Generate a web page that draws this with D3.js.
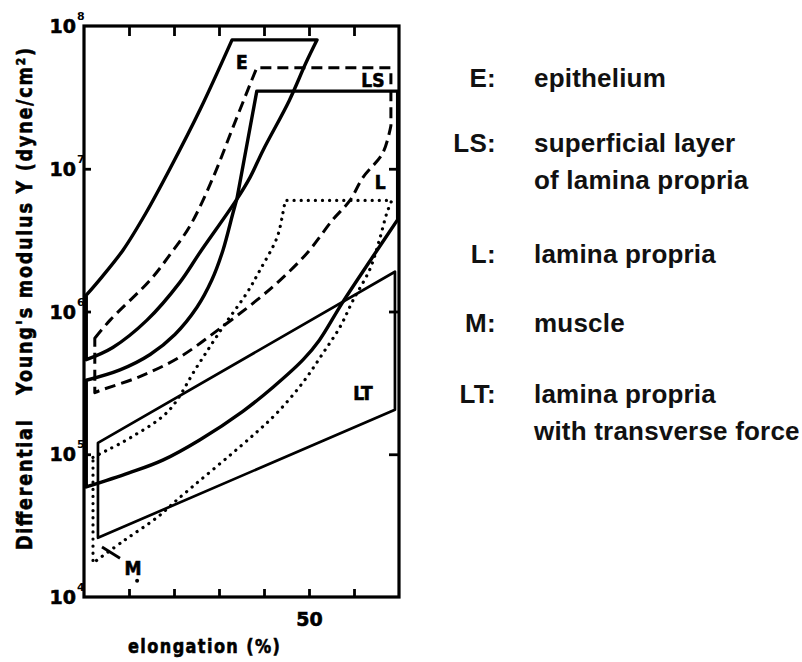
<!DOCTYPE html>
<html>
<head>
<meta charset="utf-8">
<script src="https://cdn.jsdelivr.net/npm/d3@7"></script>
<style>
  body { margin: 0; background: #fff; }
  svg { display: block; }
  .heavy { stroke: #000; stroke-width: 0.6px; paint-order: stroke; }
</style>
</head>
<body>
<div class="chart"></div>
<script>
// elongation (%) -> differential Young's modulus (dyne/cm2)
const eUpper = [[0.5, 1.3e6], [4, 1.75e6], [8.7, 2.7e6], [13.6, 4.8e6], [19.1, 1e7], [25.8, 2.6e7], [32.9, 8e7]];
const eLower = [[0.5, 4.6e5], [6.4, 5.6e5], [14, 8.7e5], [21.3, 1.6e6], [25.8, 2.6e6], [33.8, 6e6], [36.9, 8.7e6], [39.8, 1.35e7], [45.6, 3e7], [49.3, 5.5e7], [51.8, 8e7]];

const lsUpper = [[2.4, 6.5e5], [5.8, 8.7e5], [14.7, 1.66e6], [19.1, 2.5e6], [23.6, 4e6], [28.7, 8.7e6], [33.1, 1.95e7], [36.9, 3.9e7], [38.4, 5.1e7]];
const lsLower = [[2.4, 2.7e5], [3.6, 2.8e5], [12.4, 3.5e5], [21.3, 4.8e5], [30.2, 7.6e5], [38.4, 1.2e6], [43.6, 1.66e6], [49.6, 2.57e6], [55.3, 4.4e6], [59.1, 6e6], [62, 8.7e6], [66.4, 1.29e7], [68.2, 2e7]];
const lsTop = 5.1e7, lsRight = 68.2;

const lUpper = [[0.5, 3.3e5], [8, 3.9e5], [14.7, 5e5], [20.2, 6.9e5], [25.1, 1.07e6], [28.4, 1.66e6], [30.9, 2.7e6], [33.1, 4.9e6], [34, 6.2e6]];
const lLower = [[0.5, 5.9e4], [10, 7.4e4], [17.5, 9.1e4], [25.7, 1.26e5], [35.3, 2e5], [42, 2.95e5], [48.7, 4.6e5], [52.3, 6.3e5], [57.4, 1.15e6], [64.1, 2.4e6], [69.7, 4.4e6]];
const lTop = 3.5e7, lCornerX = 38.4, lRight = 69.7;

const mUpper = [[2, 9.5e4], [4.7, 1.05e5], [10.2, 1.3e5], [18.7, 2e5], [25.1, 4.1e5], [30.9, 7.8e5], [36.2, 1.35e6], [39.1, 1.95e6], [42.9, 3.3e6], [44.2, 4.9e6], [44.7, 6e6]];
const mLower = [[2, 1.73e4], [9, 2.5e4], [16.2, 3.6e4], [20.7, 4.8e4], [36.9, 1.3e5], [42.9, 1.95e5], [48.7, 3.2e5], [53.1, 5.1e5], [56.9, 7.8e5], [59.8, 1.2e6], [63.6, 2e6], [65.8, 3.3e6], [67.3, 4.9e6], [68.4, 6e6]];
const mPointer = [[4, 2.24e4], [8, 1.87e4]];

const ltUpper = [[3.1, 1.2e5], [69.1, 1.9e6]];
const ltLower = [[3.1, 2.6e4], [69.1, 2.05e5]];

const regionNames = ["E", "LS", "L", "LT", "M"];
const regionLabelX = [35.1, 64.2, 65.8, 62, 10.9];
const regionLabelY = [5.6e7, 4.2e7, 8.1e6, 2.7e5, 1.6e4];

const xTicks = [10, 20, 30, 40, 50, 60];
const xLabelled = [50];
const yTicks = [1e5, 1e6, 1e7];
const yExponents = [4, 5, 6, 7, 8];

const legendKeys = ["E:", "LS:", "L:", "M:", "LT:"];
const legendText = [["epithelium"], ["superficial layer", "of lamina propria"], ["lamina propria"], ["muscle"], ["lamina propria", "with transverse force"]];

const width = 802, height = 662;
const svg = d3.select(".chart").append("svg")
    .attr("width", width)
    .attr("height", height)
    .attr("viewBox", [0, 0, width, height]);

svg.append("rect").attr("width", width).attr("height", height).attr("fill", "#fff");

const x = d3.scaleLinear().domain([0, 70]).range([84, 399]);
const y = d3.scaleLog().domain([1e4, 1e8]).range([597, 26]);

const labelFont = "'DejaVu Sans', sans-serif";

/* frame and ticks */
svg.append("rect")
    .attr("x", x(0)).attr("y", y(1e8))
    .attr("width", x(70) - x(0)).attr("height", y(1e4) - y(1e8))
    .attr("fill", "none").attr("stroke", "#000").attr("stroke-width", 3.2);

function styleAxis(g) {
    g.select(".domain").remove();
    g.selectAll(".tick line").attr("stroke", "#000").attr("stroke-width", 2.8);
    g.selectAll(".tick text").attr("fill", "#000").attr("class", "heavy")
        .style("font-family", labelFont).style("font-weight", "bold").style("font-size", "19px");
}

svg.append("g").attr("transform", `translate(0,${y(1e4)})`)
    .call(d3.axisBottom(x).tickValues(xTicks).tickSize(-8).tickPadding(16)
        .tickFormat(d => xLabelled.includes(d) ? d : ""))
    .call(styleAxis);
svg.append("g").attr("transform", `translate(0,${y(1e8)})`)
    .call(d3.axisTop(x).tickValues(xTicks).tickSize(-10).tickFormat(""))
    .call(styleAxis);
svg.append("g").attr("transform", `translate(${x(0)},0)`)
    .call(d3.axisLeft(y).tickValues(yTicks).tickSize(-7).tickFormat(""))
    .call(styleAxis);
svg.append("g").attr("transform", `translate(${x(70)},0)`)
    .call(d3.axisRight(y).tickValues(yTicks).tickSize(-10).tickFormat(""))
    .call(styleAxis);

/* y tick labels 10^n */
const yl = svg.append("g").style("font-family", labelFont).style("font-weight", "bold");
yl.selectAll("text.base").data(yExponents).join("text")
    .attr("class", "base heavy")
    .attr("x", 76).attr("y", d => y(10 ** d) + 7)
    .attr("text-anchor", "end").style("font-size", "19px")
    .text("10");
yl.selectAll("text.exp").data(yExponents).join("text")
    .attr("class", "exp")
    .attr("x", 77).attr("y", d => y(10 ** d) - 6)
    .style("font-size", "11px")
    .text(d => d);

/* axis titles, lettering is tall and narrow in the original */
svg.append("text")
    .attr("class", "heavy")
    .attr("transform", "translate(32,299) rotate(-90) scale(0.8,1)")
    .attr("text-anchor", "middle")
    .attr("textLength", 502 / 0.8).attr("lengthAdjust", "spacing")
    .style("white-space", "pre")
    .style("font-family", labelFont).style("font-weight", "bold").style("font-size", "22px")
    .text("Differential   Young's modulus Y (dyne/cm²)");

svg.append("text")
    .attr("class", "heavy")
    .attr("transform", "translate(204,653) scale(0.85,1)")
    .attr("text-anchor", "middle")
    .attr("textLength", 152 / 0.85).attr("lengthAdjust", "spacing")
    .style("font-family", labelFont).style("font-weight", "bold").style("font-size", "19px")
    .text("elongation (%)");

/* regions */
const smooth = d3.line().x(d => x(d[0])).y(d => y(d[1])).curve(d3.curveCatmullRom.alpha(0.5));
const straight = d3.line().x(d => x(d[0])).y(d => y(d[1]));
const rev = a => a.slice().reverse();
function outline(...parts) {
    return parts.map((p, i) => i ? p.replace(/^M/, "L") : p).join("") + "Z";
}

const regions = svg.append("g").attr("fill", "none").attr("stroke", "#000")
    .attr("stroke-linejoin", "round");

regions.append("path")
    .attr("d", outline(smooth(eUpper), straight([eUpper.at(-1), eLower.at(-1)]),
        smooth(rev(eLower)), straight([eLower[0], eUpper[0]])))
    .attr("stroke-width", 3.4);

regions.append("path")
    .attr("d", outline(smooth(lsUpper), straight([lsUpper.at(-1), [lsRight, lsTop], lsLower.at(-1)]),
        smooth(rev(lsLower)), straight([lsLower[0], lsUpper[0]])))
    .attr("stroke-width", 3)
    .attr("stroke-dasharray", "11 6");

regions.append("path")
    .attr("d", outline(smooth(lUpper), straight([lUpper.at(-1), [lCornerX, lTop], [lRight, lTop], lLower.at(-1)]),
        smooth(rev(lLower)), straight([lLower[0], lUpper[0]])))
    .attr("stroke-width", 3.4);

regions.append("path")
    .attr("d", outline(smooth(mUpper), straight([mUpper.at(-1), mLower.at(-1)]),
        smooth(rev(mLower)), straight([mLower[0], mUpper[0]])))
    .attr("stroke-width", 3.2)
    .attr("stroke-linecap", "round")
    .attr("stroke-dasharray", "0.1 7");

regions.append("path")
    .attr("d", outline(straight([ltUpper[0], ltUpper[1], ltLower[1], ltLower[0]])))
    .attr("stroke-width", 2.7);

regions.append("path")
    .attr("d", straight(mPointer))
    .attr("stroke-width", 2.8);

svg.append("circle").attr("cx", x(11.8)).attr("cy", y(1.3e4)).attr("r", 2).attr("fill", "#000");

svg.append("g").selectAll("text").data(regionNames).join("text")
    .attr("class", "heavy")
    .attr("x", (d, i) => x(regionLabelX[i]))
    .attr("y", (d, i) => y(regionLabelY[i]) + 7)
    .attr("text-anchor", "middle")
    .style("font-family", "'DejaVu Sans Condensed', 'DejaVu Sans', sans-serif")
    .style("font-weight", "bold").style("font-size", "19px")
    .text(d => d);

/* legend */
const rowY = [87, 152, 263, 332, 403];
const legend = svg.append("g")
    .style("font-family", "'Liberation Sans', Arial, sans-serif")
    .style("font-weight", "bold").style("font-size", "26px")
    .attr("fill", "#111");

legend.selectAll("text.key").data(legendKeys).join("text")
    .attr("class", "key")
    .attr("x", 496).attr("y", (d, i) => rowY[i])
    .attr("text-anchor", "end")
    .style("letter-spacing", "0.3px")
    .text(d => d);

legend.selectAll("g.row").data(legendText).join("g")
    .attr("class", "row")
    .each(function(lines, i) {
        d3.select(this).selectAll("text").data(lines).join("text")
            .attr("x", 534).attr("y", (d, j) => rowY[i] + j * 37)
            .style("letter-spacing", "0.2px")
            .text(d => d);
    });
</script>
</body>
</html>
